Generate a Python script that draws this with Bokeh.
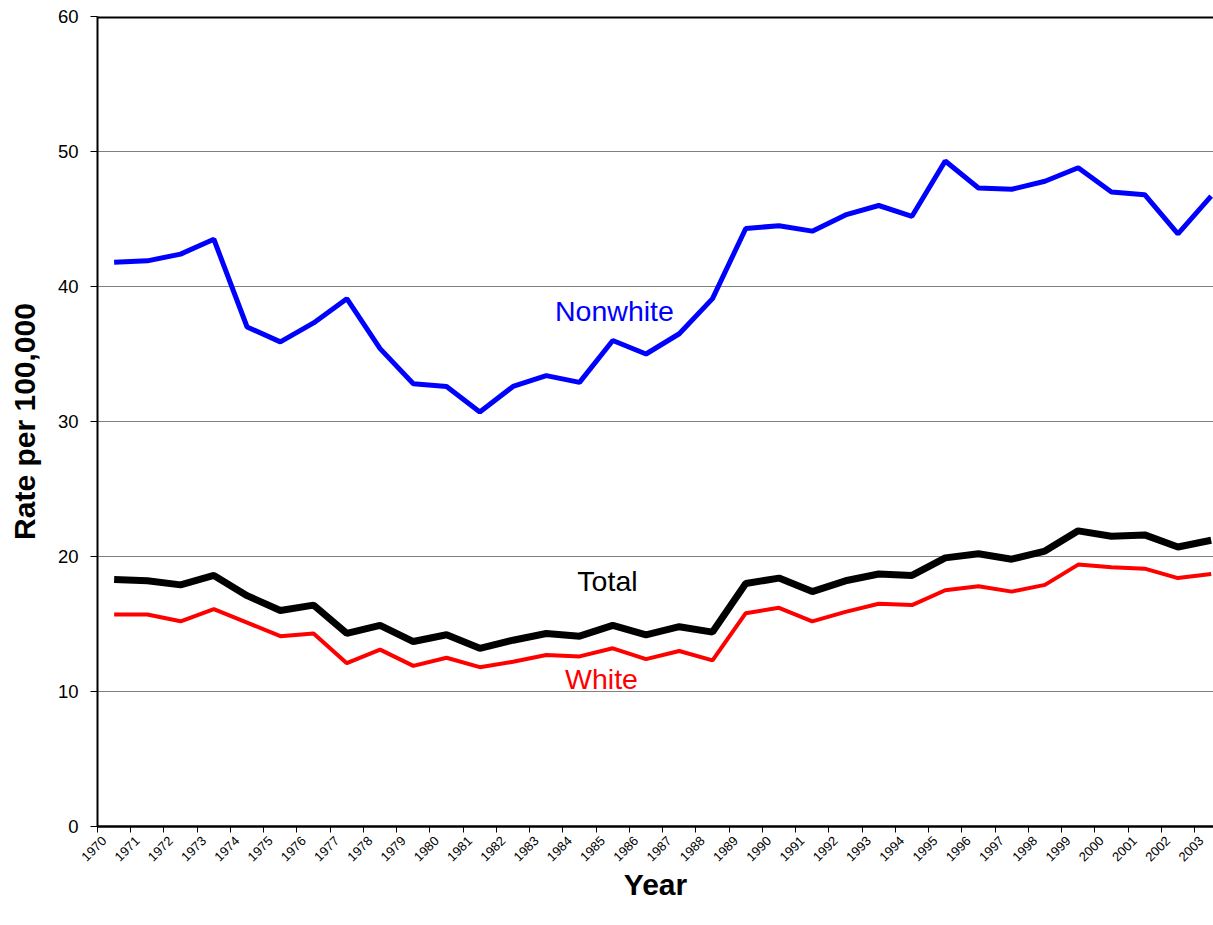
import math
from bokeh.plotting import figure
from bokeh.models import Range1d, FixedTicker, Label, Span
from bokeh.embed import file_html
from bokeh.resources import INLINE

years = [str(y) for y in range(1970, 2004)]
nonwhite = [41.8, 41.9, 42.4, 43.5, 37.0, 35.9, 37.3, 39.1, 35.4, 32.8, 32.6, 30.7,
            32.6, 33.4, 32.9, 36.0, 35.0, 36.5, 39.1, 44.3, 44.5, 44.1, 45.3, 46.0,
            45.2, 49.3, 47.3, 47.2, 47.8, 48.8, 47.0, 46.8, 43.9, 46.7]
total = [18.3, 18.2, 17.9, 18.6, 17.1, 16.0, 16.4, 14.3, 14.9, 13.7, 14.2, 13.2,
         13.8, 14.3, 14.1, 14.9, 14.2, 14.8, 14.4, 18.0, 18.4, 17.4, 18.2, 18.7,
         18.6, 19.9, 20.2, 19.8, 20.4, 21.9, 21.5, 21.6, 20.7, 21.2]
white = [15.7, 15.7, 15.2, 16.1, 15.1, 14.1, 14.3, 12.1, 13.1, 11.9, 12.5, 11.8,
         12.2, 12.7, 12.6, 13.2, 12.4, 13.0, 12.3, 15.8, 16.2, 15.2, 15.9, 16.5,
         16.4, 17.5, 17.8, 17.4, 17.9, 19.4, 19.2, 19.1, 18.4, 18.7]
y_ticks = [0, 10, 20, 30, 40, 50, 60]

# category centres (data points) and category boundaries (tick marks)
xpos = [i + 0.5 for i in range(len(years))]
bounds = list(range(len(years) + 1))
# label anchors: slightly left of the centre, as the rotated labels sit there
label_pos = [i + 0.2 for i in range(len(years))]

FONT = "Liberation Sans"

p = figure(width=1213, height=925, output_backend="svg", toolbar_location=None,
           x_range=Range1d(0, 33.57), y_range=Range1d(0, 60),
           min_border_left=97, min_border_right=0, min_border_top=16,
           min_border_bottom=99, background_fill_color="white",
           border_fill_color="white")

p.outline_line_color = None
p.add_layout(Span(location=60, dimension="width", line_color="black", line_width=4))

# y axis
p.yaxis.ticker = FixedTicker(ticks=y_ticks)
p.yaxis.major_tick_out = 7
p.yaxis.major_tick_in = 0
p.yaxis.minor_tick_line_color = None
p.yaxis.axis_line_width = 2
p.yaxis.major_tick_line_width = 1
p.yaxis.major_label_text_font = FONT
p.yaxis.major_label_text_font_size = "18.5px"
p.yaxis.major_label_text_color = "black"
p.yaxis.major_label_standoff = 12
p.yaxis.axis_label = "Rate per 100,000"
p.yaxis.axis_label_text_font = FONT
p.yaxis.axis_label_text_font_style = "bold"
p.yaxis.axis_label_text_font_size = "30px"
p.yaxis.axis_label_text_color = "black"
p.yaxis.axis_label_standoff = 14

# x axis
p.xaxis.ticker = FixedTicker(ticks=label_pos, minor_ticks=bounds)
p.xaxis.major_label_overrides = {x: y for x, y in zip(label_pos, years)}
p.xaxis.major_tick_out = 0
p.xaxis.major_tick_in = 0
p.xaxis.minor_tick_out = 6
p.xaxis.minor_tick_in = 0
p.xaxis.minor_tick_line_width = 1
p.xaxis.axis_line_width = 2.5
p.xaxis.major_label_orientation = math.pi / 4
p.xaxis.major_label_text_font = FONT
p.xaxis.major_label_text_font_size = "13px"
p.xaxis.major_label_text_color = "black"
p.xaxis.major_label_standoff = 6
p.xaxis.axis_label = "Year"
p.xaxis.axis_label_text_font = FONT
p.xaxis.axis_label_text_font_style = "bold"
p.xaxis.axis_label_text_font_size = "30px"
p.xaxis.axis_label_text_color = "black"
p.xaxis.axis_label_standoff = 0

p.xgrid.visible = False
p.ygrid.ticker = FixedTicker(ticks=[10, 20, 30, 40, 50])
p.ygrid.grid_line_color = "#808080"
p.ygrid.grid_line_width = 1

p.line(xpos, nonwhite, line_color="#0000FF", line_width=5)
p.line(xpos, white, line_color="#FF0000", line_width=4)
p.line(xpos, total, line_color="black", line_width=7)

for txt, x, y, c in [("Nonwhite", 15.55, 38.15, "#0000FF"),
                     ("Total", 15.34, 18.2, "black"),
                     ("White", 15.16, 10.96, "#FF0000")]:
    p.add_layout(Label(x=x, y=y, text=txt, text_align="center",
                       text_baseline="middle", text_color=c,
                       text_font=FONT, text_font_size="28.5px"))

open("out.html", "w").write(file_html(p, INLINE))
